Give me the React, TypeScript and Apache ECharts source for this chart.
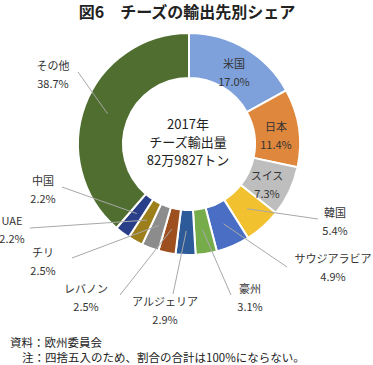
import React, { useEffect, useRef } from 'react';
import * as echarts from 'echarts';

const categories = ['米国', '日本', 'スイス', '韓国', 'サウジアラビア', '豪州', 'アルジェリア', 'レバノン', 'チリ', 'UAE', '中国', 'その他'];
const shares = [17.0, 11.4, 7.3, 5.4, 4.9, 3.1, 2.9, 2.5, 2.5, 2.2, 2.2, 38.7];
const colors = ['#7EA1DC', '#DF873C', '#BEBEBE', '#F1C12F', '#4A6EC4', '#77AC4B', '#2D5A98', '#9E4F1F', '#8C8C8C', '#9C7E1B', '#2A3F8A', '#4F6E2F'];

const titleText = '図6　チーズの輸出先別シェア';
const centerLines = ['2017年', 'チーズ輸出量', '82万9827トン'];
const sourceText = '資料：欧州委員会';
const noteText = '注：四捨五入のため、割合の合計は100%にならない。';

// layout (styling only)
const CX = 189;
const CY = 144;
const R_IN = 66;
const R_OUT = 111;
const labelPos: [number, number][] = [
  [234, 72], [276, 135], [267, 184], [335, 221], [333, 267], [250, 297],
  [165, 310], [86, 297], [43, 261], [12, 229], [43, 189], [53, 74],
];
const leaderEnd: ([number, number] | null)[] = [
  null, null, null, [318, 219], [287, 267], [231, 295],
  [173, 294], [120, 295], [72, 258], [30, 228], [62, 187], [78, 72],
];

const FONT = '"Noto Sans CJK JP", "Noto Sans", sans-serif';

export default function App() {
  const ref = useRef<HTMLDivElement>(null);
  useEffect(() => {
    if (!ref.current) return;
    const chart = echarts.init(ref.current, undefined, { renderer: 'svg' });
    const total = shares.reduce((a, b) => a + b, 0);
    let cum = 0;
    const lines: any[] = [];
    shares.forEach((v, i) => {
      const mid = ((cum + v / 2) / total) * Math.PI * 2;
      cum += v;
      const end = leaderEnd[i];
      if (!end) return;
      const r = 87;
      const sx = CX + r * Math.sin(mid);
      const sy = CY - r * Math.cos(mid);
      lines.push({
        type: 'polyline',
        z: 100,
        silent: true,
        shape: { points: [[sx, sy], end] },
        style: { stroke: '#A8A8A8', lineWidth: 1, fill: null },
      });
    });
    const texts: any[] = [
      {
        type: 'text', x: 187, y: 11, z: 100,
        style: { text: titleText, textAlign: 'center', textVerticalAlign: 'middle', font: `bold 16px ${FONT}`, fill: '#222' },
      },
      ...centerLines.map((t, i) => ({
        type: 'text', x: 188, y: 123 + i * 18, z: 100,
        style: { text: t, textAlign: 'center', textVerticalAlign: 'middle', font: `13px ${FONT}`, fill: '#222' },
      })),
      {
        type: 'text', x: 10, y: 342, z: 100,
        style: { text: sourceText, textAlign: 'left', textVerticalAlign: 'middle', font: `11.5px ${FONT}`, fill: '#222' },
      },
      {
        type: 'text', x: 22, y: 357, z: 100,
        style: { text: noteText, textAlign: 'left', textVerticalAlign: 'middle', font: `11.5px ${FONT}`, fill: '#222' },
      },
    ];
    chart.setOption({
      animation: false,
      backgroundColor: '#fff',
      series: [
        {
          type: 'pie',
          center: [CX, CY],
          radius: [R_IN, R_OUT],
          startAngle: 90,
          clockwise: true,
          avoidLabelOverlap: false,
          silent: true,
          itemStyle: { borderColor: '#fff', borderWidth: 2 },
          label: {
            show: true,
            position: 'outside',
            formatter: (p: any) => `${p.name}\n${shares[p.dataIndex].toFixed(1)}%`,
            color: '#333',
            fontSize: 11,
            lineHeight: 18,
            fontFamily: FONT,
            align: 'center',
          },
          labelLine: { show: false },
          labelLayout: (p: any) => {
            const [x, y] = labelPos[p.dataIndex];
            return { x, y, align: 'center', verticalAlign: 'middle' };
          },
          data: categories.map((n, i) => ({ name: n, value: shares[i], itemStyle: { color: colors[i] } })),
        },
      ],
      graphic: [...lines, ...texts],
    });
    return () => chart.dispose();
  }, []);
  return <div ref={ref} style={{ position: 'fixed', left: 0, top: 0, width: 373, height: 365 }} />;
}
